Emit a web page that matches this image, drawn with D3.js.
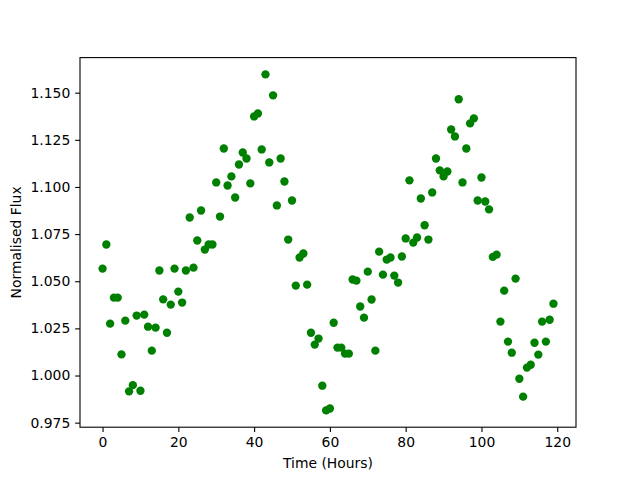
<!DOCTYPE html>
<html>
<head>
<meta charset="utf-8">
<script src="https://cdn.jsdelivr.net/npm/d3@7"></script>
<style>
  body { margin: 0; background: #fff; }
  svg text { font-family: "DejaVu Sans", sans-serif; }
</style>
</head>
<body>
<svg id="chart" width="640" height="480"></svg>
<script>
// time in hours, one reading per hour
const hours = d3.range(0, 120);

// normalised flux values
const flux = [
  1.0567, 1.0695, 1.0275, 1.0413, 1.0413, 1.0112, 1.0291, 0.9916, 0.9949, 1.0318,
  0.9919, 1.0323, 1.0259, 1.0132, 1.0254, 1.0557, 1.0404, 1.0227, 1.0376, 1.0567,
  1.0445, 1.0387, 1.0557, 1.0838, 1.0572, 1.0716, 1.0875, 1.0668, 1.0695, 1.0695,
  1.1024, 1.0843, 1.1204, 1.1008, 1.1056, 1.0944, 1.1119, 1.1183, 1.1151, 1.1019,
  1.1374, 1.1390, 1.1199, 1.1597, 1.1130, 1.1486, 1.0902, 1.1151, 1.1029, 1.0721,
  1.0928, 1.0477, 1.0626, 1.0647, 1.0482, 1.0227, 1.0164, 1.0196, 0.9946, 0.9815,
  0.9825, 1.0280, 1.0148, 1.0148, 1.0116, 1.0116, 1.0509, 1.0503, 1.0366, 1.0307,
  1.0551, 1.0403, 1.0132, 1.0657, 1.0535, 1.0615, 1.0626, 1.0530, 1.0493, 1.0631,
  1.0727, 1.1035, 1.0705, 1.0732, 1.0939, 1.0797, 1.0721, 1.0971, 1.1151, 1.1088,
  1.1056, 1.1082, 1.1305, 1.1268, 1.1465, 1.1024, 1.1204, 1.1337, 1.1364, 1.0928,
  1.1050, 1.0923, 1.0881, 1.0629, 1.0641, 1.0286, 1.0450, 1.0180, 1.0121, 1.0514,
  0.9983, 0.9888, 1.0042, 1.0057, 1.0174, 1.0111, 1.0286, 1.0180, 1.0296, 1.0381
];

const xTicks = [0, 20, 40, 60, 80, 100, 120];
const yTicks = [0.975, 1.000, 1.025, 1.050, 1.075, 1.100, 1.125, 1.150];

const margin = { left: 80, right: 64, top: 57.6, bottom: 52.8 };
const width = 640, height = 480;

const svg = d3.select('#chart');

// matplotlib style 5% padding on both axes
function padded(ext) {
  const p = (ext[1] - ext[0]) * 0.05;
  return [ext[0] - p, ext[1] + p];
}

const x = d3.scaleLinear()
  .domain(padded(d3.extent(hours)))
  .range([margin.left, width - margin.right]);

const y = d3.scaleLinear()
  .domain(padded(d3.extent(flux)))
  .range([height - margin.bottom, margin.top]);

const tickLen = 4.86;

svg.append('g')
  .attr('transform', `translate(0,${height - margin.bottom})`)
  .call(d3.axisBottom(x).tickValues(xTicks).tickFormat(d3.format('d')).tickSizeOuter(0).tickSize(tickLen).tickPadding(4.9))
  .call(g => g.select('.domain').remove())
  .call(g => g.selectAll('line').attr('stroke', '#000').attr('stroke-width', 1.1))
  .call(g => g.selectAll('text').attr('font-size', '13.9px').attr('fill', '#000'));

svg.append('g')
  .attr('transform', `translate(${margin.left},0)`)
  .call(d3.axisLeft(y).tickValues(yTicks).tickFormat(d3.format('.3f')).tickSizeOuter(0).tickSize(tickLen).tickPadding(4.9))
  .call(g => g.select('.domain').remove())
  .call(g => g.selectAll('line').attr('stroke', '#000').attr('stroke-width', 1.1))
  .call(g => g.selectAll('text').attr('font-size', '13.9px').attr('fill', '#000'));

svg.append('g')
  .selectAll('circle')
  .data(hours)
  .join('circle')
  .attr('cx', d => x(d))
  .attr('cy', (d, i) => y(flux[i]))
  .attr('r', 4.17)
  .attr('fill', '#008000');

// axes frame
svg.append('rect')
  .attr('x', margin.left)
  .attr('y', margin.top)
  .attr('width', width - margin.left - margin.right)
  .attr('height', height - margin.top - margin.bottom)
  .attr('fill', 'none')
  .attr('stroke', '#000')
  .attr('stroke-width', 1.1);

svg.append('text')
  .attr('x', (margin.left + width - margin.right) / 2)
  .attr('y', 468)
  .attr('text-anchor', 'middle')
  .attr('font-size', '13.9px')
  .text('Time (Hours)');

svg.append('text')
  .attr('transform', `translate(21,${(margin.top + height - margin.bottom) / 2}) rotate(-90)`)
  .attr('text-anchor', 'middle')
  .attr('font-size', '13.9px')
  .text('Normalised Flux');
</script>
</body>
</html>
